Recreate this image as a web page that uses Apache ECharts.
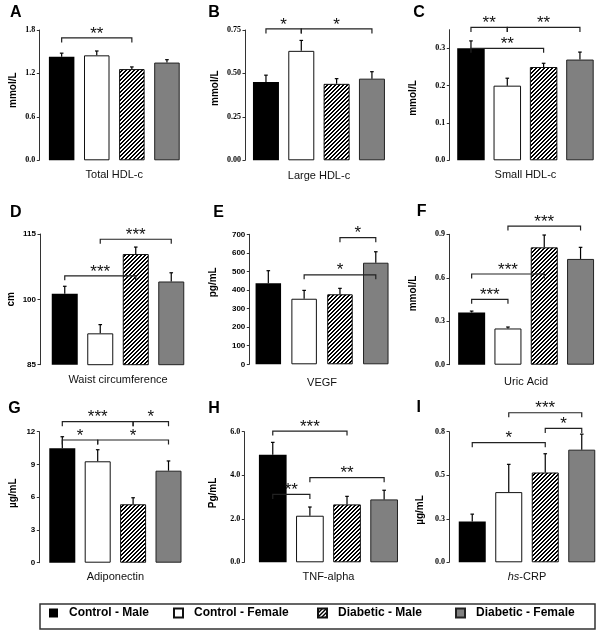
<!DOCTYPE html>
<html><head><meta charset="utf-8">
<script src="https://cdn.jsdelivr.net/npm/echarts@6/dist/echarts.min.js"></script>
<style>html,body{margin:0;padding:0;background:#fff}#c{width:600px;height:633px}</style>
</head><body><div id="c"></div>
<script>
// ---------- data ----------
const groups = ['Control - Male', 'Control - Female', 'Diabetic - Male', 'Diabetic - Female'];
const panelLetters = ['A', 'B', 'C', 'D', 'E', 'F', 'G', 'H', 'I'];
const measures = ['Total HDL-c', 'Large HDL-c', 'Small HDL-c', 'Waist circumference', 'VEGF', 'Uric Acid', 'Adiponectin', 'TNF-alpha', '{i|hs}-CRP'];
const units = ['mmol/L', 'mmol/L', 'mmol/L', 'cm', 'pg/mL', 'mmol/L', 'µg/mL', 'Pg/mL', 'µg/mL'];

const meanA = [1.43, 1.45, 1.26, 1.35];
const errA = [0.05, 0.06, 0.03, 0.04];
const ticksA = [0, 0.6, 1.2, 1.8];
const sigA = [[0, 2, 1.69, '**']];

const meanB = [0.45, 0.63, 0.44, 0.47];
const errB = [0.04, 0.06, 0.03, 0.04];
const ticksB = [0, 0.25, 0.5, 0.75];
const sigB = [[0, 1, 0.756, '*'], [1, 3, 0.756, '*']];

const meanC = [0.30, 0.20, 0.25, 0.27];
const errC = [0.02, 0.02, 0.01, 0.02];
const ticksC = [0, 0.1, 0.2, 0.3];
const sigC = [[0, 1, 0.356, '**'], [1, 3, 0.356, '**'], [0, 2, 0.30, '**']];

const meanD = [101.3, 92.2, 110.4, 104.1];
const errD = [1.7, 2.0, 1.6, 2.0];
const ticksD = [85, 100, 115];
const sigD = [[1, 3, 113.8, '***'], [0, 2, 105.4, '***']];

const meanE = [436, 353, 377, 547];
const errE = [68, 45, 32, 59];
const ticksE = [0, 100, 200, 300, 400, 500, 600, 700];
const sigE = [[2, 3, 682, '*'], [1, 3, 482, '*']];

const meanF = [0.36, 0.25, 0.81, 0.73];
const errF = [0.01, 0.01, 0.085, 0.08];
const ticksF = [0, 0.3, 0.6, 0.9];
const sigF = [[1, 3, 0.957, '***'], [0, 2, 0.626, '***'], [0, 1, 0.451, '***']];

const meanG = [10.48, 9.29, 5.35, 8.43];
const errG = [1.06, 1.06, 0.60, 0.89];
const ticksG = [0, 3, 6, 9, 12];
const sigG = [[0, 2, 12.92, '***'], [2, 3, 12.92, '*'], [0, 1, 11.24, '*'], [1, 3, 11.24, '*']];

const meanH = [4.94, 2.14, 2.66, 2.89];
const errH = [0.57, 0.40, 0.37, 0.42];
const ticksH = [0, 2, 4, 6];
const sigH = [[0, 2, 6.03, '***'], [1, 3, 3.89, '**'], [0, 1, 3.12, '**']];

const meanI = [0.25, 0.43, 0.55, 0.69];
const errI = [0.045, 0.17, 0.115, 0.095];
const ticksI = [0, 0.2667, 0.5333, 0.8];
const sigI = [[1, 3, 0.916, '***'], [2, 3, 0.82, '*'], [0, 2, 0.733, '*']];

const axisMin = [0, 0, 0, 85, 0, 0, 0, 0, 0];
const axisMax = [1.8, 0.75, 0.35, 115, 700, 0.9, 12, 6, 0.8];
const tickDecimals = [1, 2, 1, 0, 0, 1, 0, 1, 1];

// ---------- layout ----------
const panels = [
  { mean: meanA, err: errA, ticks: ticksA, sig: sigA },
  { mean: meanB, err: errB, ticks: ticksB, sig: sigB },
  { mean: meanC, err: errC, ticks: ticksC, sig: sigC },
  { mean: meanD, err: errD, ticks: ticksD, sig: sigD },
  { mean: meanE, err: errE, ticks: ticksE, sig: sigE },
  { mean: meanF, err: errF, ticks: ticksF, sig: sigF },
  { mean: meanG, err: errG, ticks: ticksG, sig: sigG },
  { mean: meanH, err: errH, ticks: ticksH, sig: sigH },
  { mean: meanI, err: errI, ticks: ticksI, sig: sigI }
];
const SERIF = '"Liberation Serif", "Times New Roman", serif';
const SANS = '"Liberation Sans", Arial, sans-serif';
const layout = [
  { l: 44.1, t: 30, w: 140.4, h: 130.3, off: 4.8, bw: 25.5, xg: 8.7, yg: 21, yup: 5, ff: SERIF, lx: 10, ly: 12.7 },
  { l: 248.3, t: 30, w: 141.3, h: 130.3, off: 3.3, bw: 26, xg: 9.7, yg: 25, yup: 7, ff: SERIF, lx: 208.3, ly: 12.5 },
  { l: 452.8, t: 29.7, w: 145.3, h: 130.6, off: 3.5, bw: 27.5, xg: 8.7, yg: 31, yup: -3, ff: SERIF, lx: 413.3, ly: 12.5 },
  { l: 47, t: 234, w: 142, h: 130.7, off: 7, bw: 26, xg: 9.3, yg: 24, yup: 0, ff: SANS, lx: 10, ly: 212.5 },
  { l: 250.4, t: 234.3, w: 143.3, h: 130, off: 1.1, bw: 25.5, xg: 13.4, yg: 31, yup: 17, ff: SANS, lx: 213.3, ly: 213 },
  { l: 453.5, t: 234.3, w: 145.2, h: 130.4, off: 4.5, bw: 27, xg: 12, yg: 31, yup: 6, ff: SERIF, lx: 416.7, ly: 212 },
  { l: 44.6, t: 431.7, w: 141.6, h: 131, off: 5.3, bw: 26, xg: 9, yg: 21, yup: 4, ff: SANS, lx: 8.3, ly: 408.7 },
  { l: 254.2, t: 431.7, w: 148.5, h: 130.6, off: 9.9, bw: 27.7, xg: 8.7, yg: 26, yup: 4, ff: SERIF, lx: 208.3, ly: 408.7 },
  { l: 454, t: 431.7, w: 148.6, h: 130.6, off: 5, bw: 27, xg: 9.4, yg: 24, yup: -13, ff: SERIF, lx: 416.5, ly: 408 }
];
const legendX = [49, 173, 317, 455];

function hatchCanvas() {
  const c = document.createElement('canvas');
  c.width = 4; c.height = 4;
  const ctx = c.getContext('2d');
  ctx.fillStyle = '#fff'; ctx.fillRect(0, 0, 4, 4);
  ctx.fillStyle = '#000';
  for (let y = 0; y < 4; y++) {
    ctx.fillRect((3 - y + 4) % 4, y, 1, 1);
    ctx.fillRect((4 - y) % 4, y, 1, 1);
  }
  return c;
}
const hatch = { image: hatchCanvas(), repeat: 'repeat' };
const barStyles = [
  { color: '#000', borderColor: '#000', borderWidth: 0 },
  { color: '#fff', borderColor: '#111', borderWidth: 1 },
  { color: hatch, borderColor: '#111', borderWidth: 1 },
  { color: '#808080', borderColor: '#222', borderWidth: 1 }
];

const grid = [], xAxis = [], yAxis = [], series = [], graphic = [];
panels.forEach((P, p) => {
  const L = layout[p];
  grid.push({ left: L.l, top: L.t, width: L.w, height: L.h, containLabel: false });
  xAxis.push({
    type: 'category', gridIndex: p, data: groups,
    axisLine: { show: false }, axisTick: { show: false }, axisLabel: { show: false },
    splitLine: { show: false },
    name: measures[p], nameLocation: 'middle', nameGap: L.xg,
    nameTextStyle: { fontSize: 11, color: '#111', fontFamily: SANS, verticalAlign: 'top',
      rich: { i: { fontStyle: 'italic', fontSize: 11, color: '#111', fontFamily: SANS } } }
  });
  const dec = tickDecimals[p];
  yAxis.push({
    type: 'value', gridIndex: p, min: axisMin[p], max: axisMax[p], offset: L.off,
    axisLine: { show: true, lineStyle: { color: '#333', width: 1 } },
    axisTick: { show: true, length: 2.5, customValues: P.ticks, lineStyle: { color: '#333' } },
    axisLabel: { show: true, customValues: P.ticks, margin: 4, fontSize: 8, fontWeight: 'bold',
      fontFamily: L.ff, color: '#000', formatter: v => Number(v).toFixed(dec) },
    splitLine: { show: false },
    name: units[p], nameLocation: 'middle', nameGap: L.yg,
    nameTextStyle: { fontSize: 10, fontWeight: 'bold', color: '#000', fontFamily: SANS,
      padding: L.yup >= 0 ? [0, 0, 0, 2 * L.yup] : [0, -2 * L.yup, 0, 0] }
  });
  groups.forEach((g, gi) => {
    series.push({
      type: 'bar', name: g, xAxisIndex: p, yAxisIndex: p,
      barWidth: L.bw, barGap: '-100%',
      data: P.mean.map((v, i) => (i === gi ? v : '-')),
      itemStyle: barStyles[gi], emphasis: { disabled: true }, z: 2
    });
  });
  series.push({
    type: 'custom', xAxisIndex: p, yAxisIndex: p, silent: true, z: 3, clip: false,
    data: P.mean.map((v, i) => [i, v, P.err[i]]),
    encode: { x: 0, y: 1 },
    renderItem: (params, api) => {
      const x = api.value(0), m = api.value(1), e = api.value(2);
      const p0 = api.coord([x, m]), p1 = api.coord([x, m + e]);
      const st = { stroke: '#000', lineWidth: 1.2 };
      return { type: 'group', children: [
        { type: 'line', shape: { x1: p0[0], y1: p0[1], x2: p1[0], y2: p1[1] }, style: st },
        { type: 'line', shape: { x1: p1[0] - 1.8, y1: p1[1], x2: p1[0] + 1.8, y2: p1[1] }, style: st }
      ] };
    }
  });
  const sig = P.sig;
  series.push({
    type: 'custom', xAxisIndex: p, yAxisIndex: p, silent: true, z: 4, clip: false,
    data: sig.map(s => [s[0], s[1], s[2]]),
    encode: { x: [0, 1], y: 2 },
    renderItem: (params, api) => {
      const a = api.coord([api.value(0), api.value(2)]);
      const b = api.coord([api.value(1), api.value(2)]);
      const y = a[1];
      return { type: 'group', children: [
        { type: 'polyline', shape: { points: [[a[0], y + 4.5], [a[0], y], [b[0], y], [b[0], y + 4.5]] },
          style: { stroke: '#222', lineWidth: 1.2, fill: null } },
        { type: 'text', x: (a[0] + b[0]) / 2, y: y - 4, style: { text: sig[params.dataIndex][3],
          font: '17px "Liberation Sans", Arial, sans-serif', fill: '#111', align: 'center', verticalAlign: 'middle' } }
      ] };
    }
  });
  graphic.push({ type: 'text', x: L.lx, y: L.ly, silent: true,
    style: { text: panelLetters[p], font: 'bold 16px "Liberation Sans", Arial, sans-serif', fill: '#000',
      align: 'left', verticalAlign: 'middle' } });
});
graphic.push({ type: 'rect', shape: { x: 40, y: 604, width: 555, height: 25 }, silent: true, z: -10,
  style: { fill: 'rgba(0,0,0,0)', stroke: '#333', lineWidth: 1.5 } });

const legend = groups.map((g, i) => ({
  data: [g], left: legendX[i], top: 607, padding: 0, itemWidth: 9, itemHeight: 9, icon: 'rect',
  selectedMode: false, itemGap: 0,
  textStyle: { fontSize: 12, fontWeight: 'bold', fontFamily: SANS, color: '#000', padding: [0, 0, 0, 6] }
}));

const chart = echarts.init(document.getElementById('c'), null, { renderer: 'canvas' });
chart.setOption({ animation: false, backgroundColor: '#fff', grid, xAxis, yAxis, series, legend, graphic });
</script></body></html>
